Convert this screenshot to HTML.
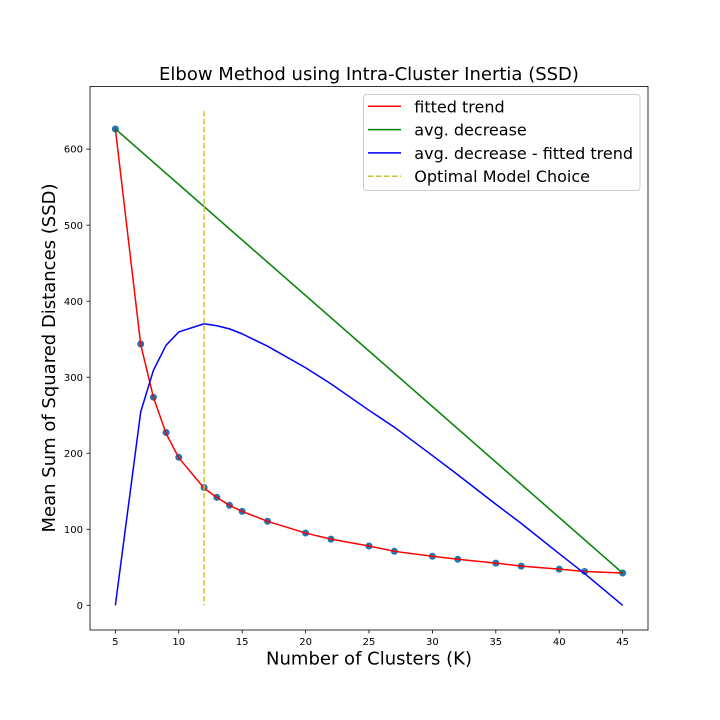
<!DOCTYPE html>
<html>
<head>
<meta charset="utf-8">
<style>
html,body{margin:0;padding:0;background:#fff;}
svg{display:block;}
text{font-family:"DejaVu Sans","Liberation Sans",sans-serif;fill:#000;}
</style>
</head>
<body>
<svg width="720" height="720" viewBox="0 0 720 720" xmlns="http://www.w3.org/2000/svg">
<rect width="720" height="720" fill="#fff"/>
<!-- title -->
<text x="369" y="80" font-size="18" text-anchor="middle">Elbow Method using Intra-Cluster Inertia (SSD)</text>

<!-- scatter points (under lines) -->
<g fill="#1f77b4">
<circle cx="115.36" cy="128.97" r="3.5"/>
<circle cx="140.73" cy="344.0" r="3.5"/>
<circle cx="153.41" cy="397.20" r="3.5"/>
<circle cx="166.09" cy="432.5" r="3.5"/>
<circle cx="178.77" cy="457.3" r="3.5"/>
<circle cx="204.14" cy="487.5" r="3.5"/>
<circle cx="216.82" cy="497.33" r="3.5"/>
<circle cx="229.50" cy="505.31" r="3.5"/>
<circle cx="242.18" cy="511.40" r="3.5"/>
<circle cx="267.55" cy="521.28" r="3.5"/>
<circle cx="305.59" cy="533.06" r="3.5"/>
<circle cx="330.96" cy="539.15" r="3.5"/>
<circle cx="369.00" cy="545.99" r="3.5"/>
<circle cx="394.37" cy="551.31" r="3.5"/>
<circle cx="432.41" cy="556.25" r="3.5"/>
<circle cx="457.78" cy="559.29" r="3.5"/>
<circle cx="495.82" cy="563.09" r="3.5"/>
<circle cx="521.19" cy="566.14" r="3.5"/>
<circle cx="559.23" cy="569.18" r="3.5"/>
<circle cx="584.60" cy="571.46" r="3.5"/>
<circle cx="622.64" cy="573.05" r="3.5"/>
</g>

<!-- red fitted trend -->
<polyline fill="none" stroke="#ff0000" stroke-width="1.5" stroke-linejoin="round" points="115.36,128.97 140.73,344.74 153.41,397.20 166.09,433.47 178.77,457.80 204.14,488.21 216.82,497.33 229.50,505.31 242.18,511.40 267.55,521.28 305.59,533.06 330.96,539.15 369.00,545.99 394.37,551.31 432.41,556.25 457.78,559.29 495.82,563.09 521.19,566.14 559.23,569.18 584.60,571.46 622.64,573.05"/>

<!-- green avg decrease -->
<line x1="115.36" y1="128.97" x2="622.64" y2="573.05" stroke="#008000" stroke-width="1.5"/>

<!-- blue diff -->
<polyline fill="none" stroke="#0000ff" stroke-width="1.5" stroke-linejoin="round" points="115.36,605.29 140.73,411.72 153.41,370.37 166.09,345.20 178.77,331.97 204.14,323.76 216.82,325.75 229.50,328.87 242.18,333.88 267.55,346.20 305.59,367.73 330.96,383.84 369.00,410.31 394.37,427.19 432.41,455.56 457.78,474.72 495.82,504.23 521.19,523.38 559.23,553.65 584.60,573.57 622.64,605.29"/>

<!-- yellow dashed -->
<line x1="204.14" y1="111.1" x2="204.14" y2="605.29" stroke="#c8c636" stroke-width="1.5" stroke-dasharray="5.55,2.4"/>

<!-- spines -->
<rect x="90" y="86.4" width="558" height="543.6" fill="none" stroke="#000" stroke-width="0.8"/>

<!-- y ticks -->
<g stroke="#000" stroke-width="0.8">
<line x1="86.5" y1="605.29" x2="90" y2="605.29"/>
<line x1="86.5" y1="529.26" x2="90" y2="529.26"/>
<line x1="86.5" y1="453.23" x2="90" y2="453.23"/>
<line x1="86.5" y1="377.21" x2="90" y2="377.21"/>
<line x1="86.5" y1="301.18" x2="90" y2="301.18"/>
<line x1="86.5" y1="225.15" x2="90" y2="225.15"/>
<line x1="86.5" y1="149.12" x2="90" y2="149.12"/>
</g>
<g font-size="10" text-anchor="end">
<text x="83" y="608.9">0</text>
<text x="83" y="532.9">100</text>
<text x="83" y="456.8">200</text>
<text x="83" y="380.8">300</text>
<text x="83" y="304.8">400</text>
<text x="83" y="228.8">500</text>
<text x="83" y="152.7">600</text>
</g>

<!-- x ticks -->
<g stroke="#000" stroke-width="0.8">
<line x1="115.36" y1="630" x2="115.36" y2="633.5"/>
<line x1="178.77" y1="630" x2="178.77" y2="633.5"/>
<line x1="242.18" y1="630" x2="242.18" y2="633.5"/>
<line x1="305.59" y1="630" x2="305.59" y2="633.5"/>
<line x1="369.00" y1="630" x2="369.00" y2="633.5"/>
<line x1="432.41" y1="630" x2="432.41" y2="633.5"/>
<line x1="495.82" y1="630" x2="495.82" y2="633.5"/>
<line x1="559.23" y1="630" x2="559.23" y2="633.5"/>
<line x1="622.64" y1="630" x2="622.64" y2="633.5"/>
</g>
<g font-size="10" text-anchor="middle">
<text x="115.36" y="645">5</text>
<text x="178.77" y="645">10</text>
<text x="242.18" y="645">15</text>
<text x="305.59" y="645">20</text>
<text x="369.00" y="645">25</text>
<text x="432.41" y="645">30</text>
<text x="495.82" y="645">35</text>
<text x="559.23" y="645">40</text>
<text x="622.64" y="645">45</text>
</g>

<!-- axis labels -->
<text x="369" y="664.3" font-size="18" text-anchor="middle">Number of Clusters (K)</text>
<text x="55" y="358" font-size="18" text-anchor="middle" transform="rotate(-90 55 358)">Mean Sum of Squared Distances (SSD)</text>

<!-- legend -->
<rect x="363.5" y="94.5" width="276.5" height="96" rx="3" ry="3" fill="#fff" fill-opacity="0.8" stroke="#cccccc" stroke-width="1"/>
<line x1="368" y1="106.3" x2="401" y2="106.3" stroke="#ff0000" stroke-width="1.5"/>
<line x1="368" y1="129.6" x2="401" y2="129.6" stroke="#008000" stroke-width="1.5"/>
<line x1="368" y1="152.9" x2="401" y2="152.9" stroke="#0000ff" stroke-width="1.5"/>
<line x1="368" y1="176.2" x2="401" y2="176.2" stroke="#c8c636" stroke-width="1.5" stroke-dasharray="5.55,2.4"/>
<g font-size="16">
<text x="414.3" y="112.3">fitted trend</text>
<text x="414.3" y="135.6">avg. decrease</text>
<text x="414.3" y="158.9">avg. decrease - fitted trend</text>
<text x="414.3" y="182.2">Optimal Model Choice</text>
</g>
</svg>
</body>
</html>
